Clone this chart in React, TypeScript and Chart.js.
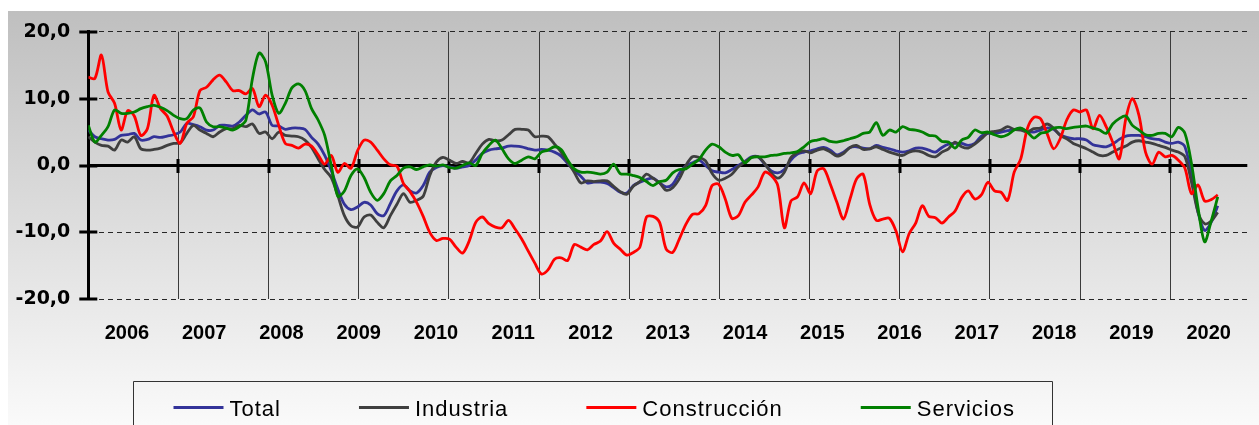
import React, { useEffect, useRef } from 'react';
import { Chart, registerables } from 'chart.js';

Chart.register(...registerables);

// ---- data (monthly, Jan 2006 – May 2020) ----
const years = ['2006', '2007', '2008', '2009', '2010', '2011', '2012', '2013', '2014', '2015', '2016', '2017', '2018', '2019', '2020'];
const yTickValues = [-20, -10, 0, 10, 20];
const seriesNames = ['Total', 'Industria', 'Construcción', 'Servicios'];
const seriesColors = ['#333399', '#3f3f3f', '#ff0000', '#008000'];

const total = [
  5.3, 4.3, 4.0, 3.8, 3.9, 4.5, 4.6, 4.8, 3.8, 3.9,
  4.3, 4.2, 4.4, 4.6, 5.0, 6.3, 6.1, 5.8, 5.3, 5.3,
  6.0, 6.0, 5.9, 6.5, 7.5, 8.3, 7.7, 8.0, 6.0, 5.9,
  5.4, 5.6, 5.6, 5.4, 4.2, 3.2, 1.5, -0.8, -3.5, -5.8,
  -6.6, -6.2, -5.5, -5.9, -7.2, -7.5, -5.7, -3.8, -2.9, -3.8,
  -4.1, -3.0, -1.0, -0.3, 0.0, -0.2, -0.4, -0.2, 0.0, 0.8,
  1.8, 2.3, 2.5, 2.6, 2.9, 2.9, 2.8, 2.5, 2.3, 2.4,
  2.3, 2.0, 1.4, 0.3, -0.7, -1.6, -2.6, -2.5, -2.5, -2.7,
  -3.3, -4.0, -4.1, -3.0, -2.5, -2.1, -1.9, -2.6, -3.2, -2.8,
  -1.2, 0.0, 0.4, 0.8, 0.0, -0.8, -1.0, -1.1, -0.6, 0.0,
  0.6, 1.3, 1.3, 0.2, -0.8, -1.1, -0.6, 0.8, 1.7, 2.0,
  2.2, 2.5, 2.7, 2.3, 1.6, 2.0, 2.7, 2.8, 2.6, 2.5,
  3.0, 2.7, 2.5, 2.2, 2.0, 2.2, 2.6, 2.6, 2.3, 2.0,
  2.7, 3.2, 3.3, 3.3, 3.0, 3.3, 4.4, 4.8, 4.8, 5.0,
  5.2, 5.4, 5.5, 5.1, 5.0, 5.3, 5.6, 5.4, 4.6, 4.2,
  4.0, 4.0, 3.8, 3.1, 2.9, 2.8, 3.2, 3.9, 4.4, 4.5,
  4.5, 4.3, 4.0, 3.9, 3.5, 3.3, 3.5, 2.8, -1.5, -7.0,
  -9.7, -8.5, -6.0,
];

const industria = [
  4.3, 3.5, 3.0, 2.9, 2.3, 3.8, 3.5, 4.3, 2.5, 2.3,
  2.4, 2.6, 3.0, 3.3, 3.4, 4.8, 6.0, 5.3, 4.8, 4.3,
  5.0, 5.5, 5.5, 6.0, 5.8, 6.2, 4.8, 5.0, 4.0, 5.0,
  4.5, 4.4, 4.3, 3.8, 2.7, 1.0, -0.6, -1.8, -4.5, -7.5,
  -9.0, -9.2, -7.7, -7.4, -8.5, -9.3, -7.5, -5.8, -4.2, -5.5,
  -5.2, -4.6, -1.5, 0.5, 1.2, 0.8, 0.3, 0.6, 0.4, 1.8,
  3.2, 3.9, 3.7, 3.8, 4.6, 5.4, 5.4, 5.3, 4.3, 4.4,
  4.3, 3.2, 2.0, 0.5, -1.0, -2.6, -2.3, -2.4, -2.3, -2.3,
  -3.1, -3.9, -4.3, -3.1, -2.4, -1.3, -1.9, -2.6, -3.7, -3.3,
  -2.0, 0.0, 1.3, 1.2, 0.7, -1.2, -2.2, -1.9, -1.3, -0.2,
  0.5, 1.2, 1.3, 0.3, -1.1, -1.9, -1.0, 1.2, 1.9, 2.2,
  1.9, 2.3, 2.5, 2.0, 1.4, 1.8, 2.7, 3.0, 2.4, 2.5,
  2.8, 2.4, 2.0, 1.7, 1.5, 2.0, 2.2, 2.0, 1.5, 1.3,
  2.0, 2.5, 3.5, 2.8, 2.6, 3.2, 4.0, 4.9, 5.1, 5.3,
  5.8, 5.4, 5.3, 5.0, 5.5, 5.6, 6.2, 5.6, 4.5, 4.0,
  3.3, 2.9, 2.5, 2.0, 1.5, 1.5, 2.0, 2.5, 2.9, 3.5,
  3.7, 3.5, 3.3, 3.0, 2.7, 2.3, 2.0, 1.3, -2.5, -7.0,
  -8.7, -8.3, -7.0,
];

const construccion = [
  13.2, 13.0, 16.5, 11.0, 9.3, 5.3, 8.2, 7.4, 4.5, 5.5,
  10.5, 8.5, 7.4, 5.0, 3.3, 6.3, 7.3, 11.2, 11.7, 12.8,
  13.5, 12.5, 11.2, 11.2, 10.7, 11.5, 8.8, 10.5, 9.0, 6.0,
  3.3, 3.0, 2.6, 3.2, 2.9, 1.6, 0.2, 1.5, -1.0, 0.3,
  -0.4, 2.2, 3.8, 3.5, 2.3, 1.0, 0.1, -0.1, -2.7, -3.9,
  -5.5, -7.6, -10.0, -11.2, -10.9, -11.0, -12.2, -13.1, -11.3, -8.5,
  -7.7, -8.7, -9.2, -9.3, -8.2, -9.5, -11.0, -12.8, -14.6, -16.2,
  -15.6, -14.0, -13.8, -14.2, -11.8, -12.2, -12.6, -11.8, -11.3, -9.9,
  -11.6, -12.5, -13.4, -13.0, -12.2, -7.7, -7.6, -8.5, -12.5, -13.0,
  -11.0, -8.8, -7.3, -7.2, -6.0, -3.0, -2.8, -5.0, -7.9, -7.5,
  -5.5, -4.4, -3.2, -1.0, -1.5, -3.0, -9.3, -5.3, -4.7, -2.6,
  -4.2, -0.8, -0.5, -2.8, -5.5, -8.0, -5.0, -2.0, -1.3, -5.8,
  -8.2, -8.0, -7.9, -9.8, -12.9, -10.2, -8.6, -6.0, -7.6, -7.8,
  -8.6, -7.7, -6.8, -4.8, -3.8, -5.0, -4.4, -2.5, -3.8, -4.0,
  -5.2, -1.0, 1.0, 5.5, 7.2, 7.0, 4.8, 2.5, 4.0, 6.8,
  8.3, 8.0, 8.3, 5.5, 7.5, 5.8, 3.5, 1.0, 7.0, 10.0,
  7.5, 2.0, 0.2, 2.0, 1.3, 1.5, 0.8, -0.4, -4.2, -2.9,
  -5.3, -5.1, -4.4,
];

const servicios = [
  6.0, 3.5, 4.5, 5.8, 8.3, 7.8, 7.8, 8.0, 8.5, 8.8,
  9.0, 8.7, 8.2, 7.5, 7.0, 7.0, 8.3, 8.6, 6.5, 5.8,
  5.8, 5.6, 5.3, 5.8, 6.8, 13.0, 16.8, 15.5, 10.5, 7.8,
  9.3, 11.6, 12.2, 11.2, 8.5, 6.8, 4.5, 0.0, -4.6, -3.8,
  -1.5, -0.5, -1.8, -4.0, -5.2, -4.2, -2.3, -1.5, -0.4, -0.2,
  -0.6, -0.2, 0.1, -0.1, 0.1, -0.3, -0.4, 0.0, 0.4, 0.0,
  1.8, 3.0, 3.8, 2.5, 1.0, 0.3, 0.8, 1.3, 1.0, 2.0,
  2.3, 2.8, 2.4, 0.8, -0.5, -1.0, -1.0, -1.1, -1.3, -1.0,
  0.2, -1.2, -1.3, -1.5, -1.8, -2.4, -3.0, -2.4, -2.2, -1.1,
  -0.6, -0.5, 0.2, 0.9, 2.3, 3.2, 2.8, 2.0, 1.5, 1.6,
  0.4, 1.2, 1.3, 1.3, 1.5, 1.6, 1.8, 1.9, 2.1, 2.8,
  3.6, 3.8, 4.0, 3.6, 3.5, 3.7, 4.0, 4.3, 4.8, 5.0,
  6.4, 4.5, 5.3, 5.0, 5.8, 5.4, 5.3, 5.0, 4.5, 4.4,
  3.6, 3.5, 2.6, 3.8, 4.2, 5.3, 4.9, 5.0, 4.6, 4.3,
  4.6, 5.3, 5.6, 5.0, 4.1, 4.8, 5.0, 5.6, 5.7, 5.5,
  5.7, 5.8, 5.9, 5.6, 5.3, 4.8, 6.2, 7.0, 7.4, 6.0,
  5.3, 4.6, 4.5, 4.8, 4.8, 4.3, 5.7, 4.8, 0.3, -6.3,
  -11.4, -8.3, -4.7,
];

const seriesValues = [total, industria, construccion, servicios];

// x-axis extent in months and spacing of the category tick marks
const X_MAX = 176.5;
const GRID_STEP = 13.73;
const gridPositions: number[] = [];
for (let k = 0; k <= 12; k++) gridPositions.push(k * GRID_STEP);

const W = 1251;
const H = 414;

const fmt = (v: number) => v.toFixed(1).replace('.', ',');

export default function App() {
  const ref = useRef<HTMLCanvasElement | null>(null);

  useEffect(() => {
    if (!ref.current) return;

    const bgPlugin = {
      id: 'bg',
      beforeDraw(chart: any) {
        const { ctx, width, height } = chart;
        const g = ctx.createLinearGradient(0, 0, 0, height);
        g.addColorStop(0, '#bfbfbf');
        g.addColorStop(1, '#fafafa');
        ctx.save();
        ctx.fillStyle = g;
        ctx.fillRect(0, 0, width, height);
        ctx.restore();
      },
    };

    const crossPlugin = {
      id: 'crosses',
      beforeDatasetsDraw(chart: any) {
        const { ctx, chartArea, scales } = chart;
        const ys = scales.y;
        const xs = scales.x;
        ctx.save();
        ctx.strokeStyle = '#000';
        ctx.lineWidth = 3;
        ctx.beginPath();
        yTickValues.forEach((v) => {
          const py = Math.round(ys.getPixelForValue(v));
          ctx.moveTo(chartArea.left - 9, py);
          ctx.lineTo(chartArea.left + 9, py);
        });
        const y0 = Math.round(ys.getPixelForValue(0));
        gridPositions.slice(1).forEach((v) => {
          const px = Math.round(xs.getPixelForValue(v));
          ctx.moveTo(px, y0 - 7);
          ctx.lineTo(px, y0 + 7);
        });
        ctx.stroke();
        ctx.restore();
      },
    };

    const legendPlugin = {
      id: 'customLegend',
      afterDraw(chart: any) {
        const { ctx, height } = chart;
        ctx.save();
        // frame
        ctx.strokeStyle = '#333';
        ctx.lineWidth = 1;
        ctx.beginPath();
        ctx.moveTo(125.5, height + 5);
        ctx.lineTo(125.5, 370.5);
        ctx.lineTo(1044.5, 370.5);
        ctx.lineTo(1044.5, height + 5);
        ctx.stroke();
        // items
        ctx.font = '22px "Liberation Sans", Arial, sans-serif';
        try { (ctx as any).letterSpacing = '1px'; } catch (e) { /* ignore */ }
        ctx.textBaseline = 'alphabetic';
        ctx.textAlign = 'left';
        let x = 165.5;
        const ly = 396.5;
        seriesNames.forEach((name, i) => {
          ctx.strokeStyle = seriesColors[i];
          ctx.lineWidth = 3;
          ctx.beginPath();
          ctx.moveTo(x, ly);
          ctx.lineTo(x + 50, ly);
          ctx.stroke();
          ctx.fillStyle = '#000';
          ctx.fillText(name, x + 56, 405);
          x += 56 + ctx.measureText(name).width + 78;
        });
        ctx.restore();
      },
    };

    const datasets = seriesNames.map((name, i) => ({
      label: name,
      data: seriesValues[i].map((v, j) => ({ x: j, y: v })),
      borderColor: seriesColors[i],
      backgroundColor: seriesColors[i],
      borderWidth: 2.8,
      pointRadius: 0,
      tension: 0.3,
      fill: false,
      order: seriesNames.length - i,
    }));

    const chart = new Chart(ref.current, {
      type: 'line',
      data: { datasets },
      options: {
        responsive: false,
        animation: false,
        devicePixelRatio: 1,
        layout: { padding: { top: 20.7, right: 11.7, bottom: 75.7, left: 0 } },
        plugins: {
          legend: { display: false },
          tooltip: { enabled: false },
          title: { display: false },
        },
        scales: {
          x: {
            type: 'linear',
            min: 0,
            max: X_MAX,
            afterBuildTicks: (s: any) => {
              s.ticks = gridPositions.map((v) => ({ value: v }));
            },
            ticks: { display: false },
            grid: { color: '#3a3a3a', lineWidth: 1, drawTicks: false },
            border: { display: false },
            afterFit: (s: any) => { s.height = 0; },
          },
          years: {
            type: 'category',
            labels: years,
            position: 'bottom',
            offset: true,
            grid: { display: false, drawTicks: false },
            border: { display: false },
            ticks: {
              autoSkip: false,
              maxRotation: 0,
              padding: 22,
              color: '#000',
              font: { family: '"Liberation Sans", Arial, sans-serif', weight: 'bold', size: 20 },
            },
            afterFit: (s: any) => { s.height = 50; },
          },
          y: {
            type: 'linear',
            min: -20,
            max: 20,
            afterBuildTicks: (s: any) => {
              s.ticks = yTickValues.map((v) => ({ value: v }));
            },
            ticks: {
              padding: 0,
              color: '#000',
              font: { family: '"DejaVu Sans", sans-serif', weight: 'bold', size: 19 },
              callback: (v: any) => fmt(Number(v)),
            },
            grid: {
              drawTicks: true,
              tickLength: 18,
              tickColor: 'rgba(0,0,0,0)',
              color: (c: any) => (c.tick && c.tick.value === 0 ? '#000' : '#262626'),
              lineWidth: (c: any) => (c.tick && c.tick.value === 0 ? 3 : 1),
            },
            border: {
              display: true,
              color: '#000',
              width: 3,
              dash: (c: any) => (c.tick && c.tick.value === 0 ? [] : [5, 4]),
            },
            afterFit: (s: any) => { s.width = 80.3; },
          },
        },
      } as any,
      plugins: [bgPlugin, crossPlugin, legendPlugin],
    });

    return () => chart.destroy();
  }, []);

  return (
    <div style={{ position: 'absolute', left: 8, top: 11, width: W, height: H }}>
      <canvas ref={ref} width={W} height={H} style={{ display: 'block', width: W, height: H }} />
    </div>
  );
}
